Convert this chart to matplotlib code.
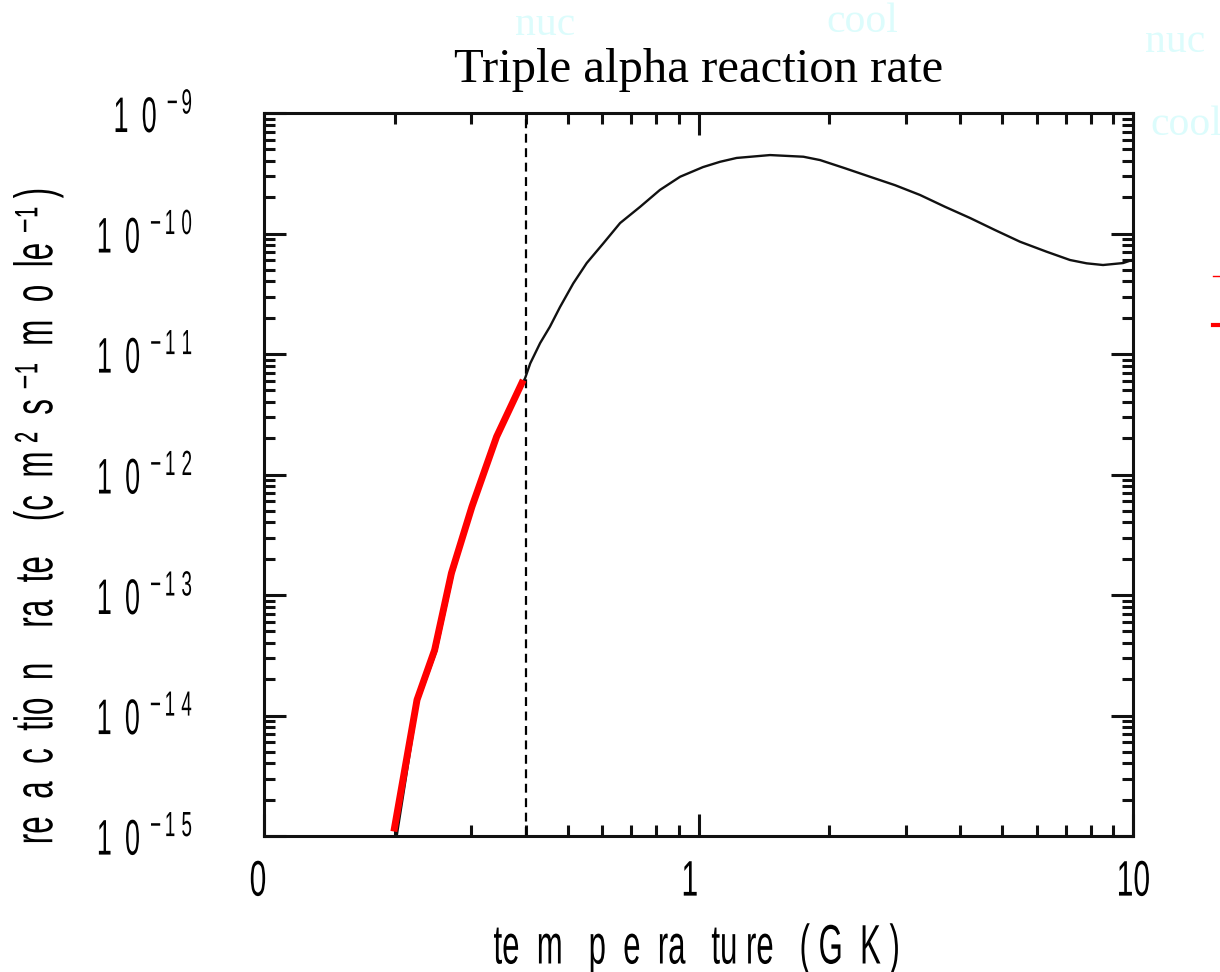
import matplotlib
matplotlib.use('Agg')
import matplotlib.pyplot as plt
from matplotlib import font_manager
from matplotlib.lines import Line2D
from matplotlib.patheffects import AbstractPathEffect
from matplotlib.transforms import Affine2D
from matplotlib.ticker import LogLocator, NullFormatter

# condensed sans for the axis text, falls back if not installed
names = set(f.name for f in font_manager.fontManager.ttflist)
narrow = 'Liberation Sans Narrow' if 'Liberation Sans Narrow' in names else 'Liberation Sans'

plt.rcParams['mathtext.fontset'] = 'custom'
plt.rcParams['mathtext.rm'] = narrow
plt.rcParams['mathtext.default'] = 'rm'


class Squeeze(AbstractPathEffect):
    """squash glyphs along the text direction (fake condensed font)"""

    def __init__(self, sx=0.6, anchor=0.5, dx=0):
        super().__init__()
        self.sx = sx
        self.anchor = anchor
        self.dx = dx

    def draw_path(self, renderer, gc, tpath, affine, rgbFace=None):
        ext = tpath.get_extents()
        cx = ext.x0 + self.anchor * ext.width
        t = (Affine2D().translate(-cx, 0).scale(self.sx, 1).translate(cx, 0)
             + affine + Affine2D().translate(self.dx, 0))
        renderer.draw_path(gc, tpath, t, rgbFace)


# black curve: temperature (GK) and rate
temp = [0.202, 0.226, 0.249, 0.272, 0.302, 0.344, 0.399, 0.410, 0.432, 0.455,
        0.480, 0.515, 0.553, 0.604, 0.660, 0.734, 0.815, 0.907, 1.024, 1.121,
        1.224, 1.461, 1.743, 1.905, 2.174, 2.481, 2.833, 3.234, 3.693, 4.216,
        4.813, 5.495, 6.33, 7.161, 7.82, 8.53, 9.49, 9.95]
rate = [1.0e-15, 1.30e-14, 3.4e-14, 1.48e-13, 5.3e-13, 2.03e-12, 6.32e-12, 8.37e-12,
        1.233e-11, 1.686e-11, 2.455e-11, 3.86e-11, 5.69e-11, 8.30e-11, 1.222e-10,
        1.667e-10, 2.30e-10, 2.96e-10, 3.56e-10, 3.94e-10, 4.24e-10, 4.48e-10,
        4.34e-10, 4.07e-10, 3.48e-10, 2.96e-10, 2.52e-10, 2.09e-10, 1.667e-10,
        1.346e-10, 1.069e-10, 8.55e-11, 7.06e-11, 6.03e-11, 5.66e-11, 5.48e-11,
        5.69e-11, 6.03e-11]

# red low temperature segment
red_temp = [0.199, 0.225, 0.247, 0.270, 0.301, 0.343, 0.395]
red_rate = [1.09e-15, 1.35e-14, 3.5e-14, 1.52e-13, 5.41e-13, 2.06e-12, 6.08e-12]

t_mark = 0.4

xticks = [0.1, 1, 10]
xlabels = ['0', '1', '10']
yticks = [1e-15, 1e-14, 1e-13, 1e-12, 1e-11, 1e-10, 1e-9]
ylabels = [r'$1\ \,0^{\ -1\ 5}$', r'$1\ \,0^{\ -1\ 4}$', r'$1\ \,0^{\ -1\ 3}$',
           r'$1\ \,0^{\ -1\ 2}$', r'$1\ \,0^{\ -1\ 1}$', r'$1\ \,0^{\ -1\ 0}$',
           r'$1\ \,0^{\ -9}$']

fig = plt.figure(figsize=(12.2, 9.72), dpi=100)
ax = fig.add_axes([0.2164, 0.1399, 0.7123, 0.7438])

ax.plot(temp, rate, color='#111111', lw=1.7, zorder=3)
ax.plot(red_temp, red_rate, color='red', lw=5, solid_capstyle='butt', zorder=4)
ax.axvline(t_mark, color='black', lw=1.6, ls=(0, (4, 2.5)), zorder=2)

ax.set_xscale('log')
ax.set_yscale('log')
ax.set_xlim(0.1, 10)
ax.set_ylim(1e-15, 1e-9)

ax.set_xticks(xticks)
ax.set_xticklabels(xlabels, family=narrow, fontsize=36)
ax.set_yticks(yticks)
ax.set_yticklabels(ylabels, fontsize=36)
ax.xaxis.set_minor_locator(LogLocator(base=10, subs=range(2, 10)))
ax.yaxis.set_minor_locator(LogLocator(base=10, subs=range(2, 10)))
ax.xaxis.set_minor_formatter(NullFormatter())
ax.yaxis.set_minor_formatter(NullFormatter())

ax.tick_params(which='both', direction='in', top=True, right=True, width=2.2, color='#111111')
ax.tick_params(which='major', length=16)
ax.tick_params(which='minor', length=8)
ax.tick_params(axis='y', which='major', pad=51)
ax.tick_params(axis='x', which='major', pad=17)

for s in ax.spines.values():
    s.set_linewidth(2.2)
    s.set_color('#111111')

x_shift = [-6, -9, 0]
for lab, dx in zip(ax.get_xticklabels(), x_shift):
    lab.set_path_effects([Squeeze(0.6, 0.5, dx)])
for lab in ax.get_yticklabels():
    lab.set_path_effects([Squeeze(0.54, 1.0)])

ax.set_xlabel('te  m   p  e  ra   tu re   ( G  K )', family=narrow, fontsize=40,
              path_effects=[Squeeze(0.56, 0.5)])
ax.xaxis.set_label_coords(0.4977, -0.121)
ax.set_ylabel('re  a  c  tio  n    ra  te    (c  m ²  s ⁻¹  m  o  le ⁻¹ )',
              family=[narrow, 'DejaVu Sans'], fontsize=39,
              path_effects=[Squeeze(0.58, 0.5)])
ax.yaxis.set_label_coords(-0.231, 0.441)

ax.set_title('Triple alpha reaction rate', family='Liberation Serif', fontsize=35, pad=22)

# faint leftover labels
faint = '#dcfcfc'
fig.text(545 / 1220, 1 - 25 / 972, 'nuc', color=faint, family='Liberation Serif', fontsize=30, ha='center', va='center')
fig.text(862 / 1220, 1 - 22 / 972, 'cool', color=faint, family='Liberation Serif', fontsize=30, ha='center', va='center')
fig.text(1175 / 1220, 1 - 42 / 972, 'nuc', color=faint, family='Liberation Serif', fontsize=30, ha='center', va='center')
fig.text(1150 / 1220, 1 - 125 / 972, 'cool', color=faint, family='Liberation Serif', fontsize=30, ha='left', va='center')

# clipped red key marks at the right edge
fig.add_artist(Line2D([1213 / 1220, 1.0], [1 - 276 / 972, 1 - 276 / 972], color='red', lw=1))
fig.add_artist(Line2D([1213 / 1220, 1.0], [1 - 325 / 972, 1 - 325 / 972], color='red', lw=3))

fig.savefig('out.png', dpi=100)
